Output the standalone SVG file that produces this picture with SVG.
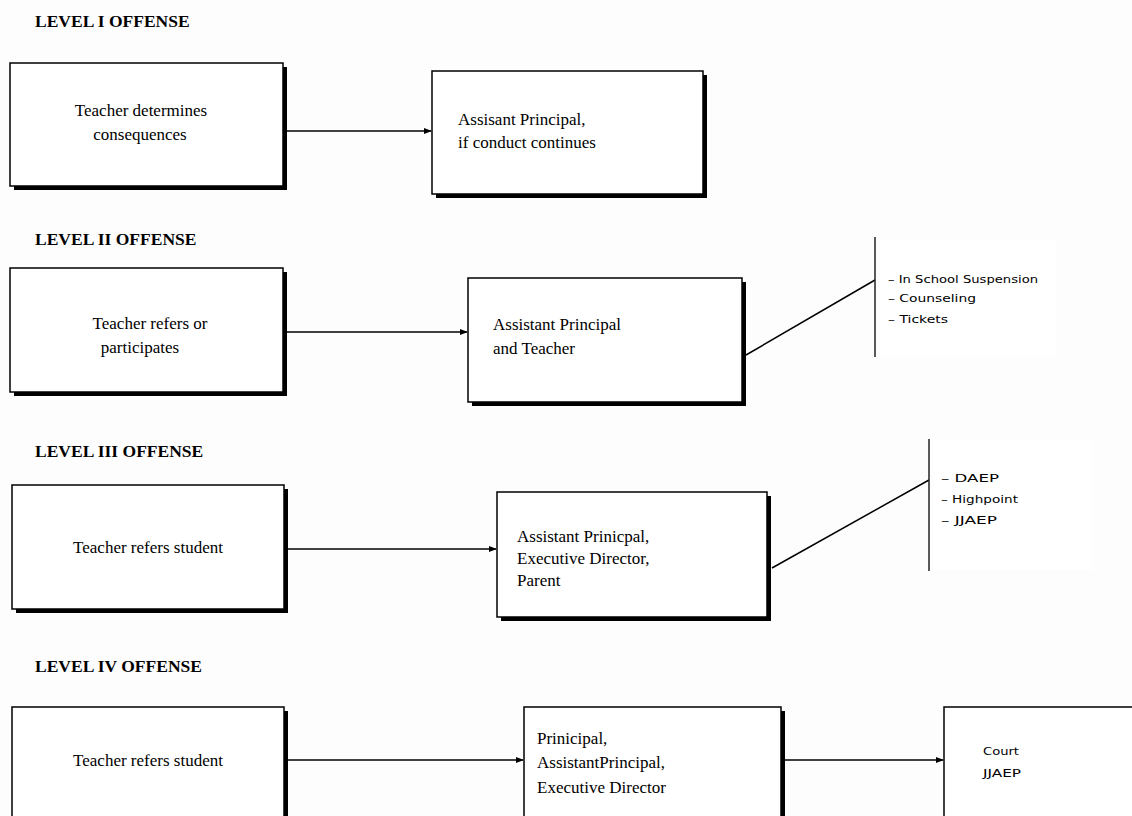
<svg xmlns="http://www.w3.org/2000/svg" width="1132" height="816" viewBox="0 0 1132 816">
  <defs>
    <marker id="arrow" viewBox="0 0 10 10" refX="9" refY="5" markerWidth="8" markerHeight="8" markerUnits="userSpaceOnUse" orient="auto">
      <path d="M0,1 L10,5 L0,9 z" fill="#000"/>
    </marker>
  </defs>
  <style>
    .title { font-family: "Liberation Serif", serif; font-weight: bold; font-size: 17.5px; fill: #000; }
    .label { font-family: "Liberation Serif", serif; font-size: 17px; fill: #000; }
    .small { font-family: "DejaVu Sans", "Liberation Sans", sans-serif; font-size: 11px; fill: #000; }
    .shadow { fill: #000; }
    .box { fill: #fff; stroke: #000; stroke-width: 1.5; }
    .conn { stroke: #000; stroke-width: 1.5; fill: none; }
    .bar { stroke: #222; stroke-width: 1.5; }
    .panel { fill: #fff; }
  </style>
  <rect width="1132" height="816" fill="#fdfdfd"/>

  <!-- section titles -->
  <text class="title" x="35" y="27">LEVEL I OFFENSE</text>
  <text class="title" x="35" y="245">LEVEL II OFFENSE</text>
  <text class="title" x="35" y="457">LEVEL III OFFENSE</text>
  <text class="title" x="35" y="672">LEVEL IV OFFENSE</text>

  <!-- Level I -->
  <g id="n1a">
    <rect class="shadow" x="14" y="67" width="273" height="123"/>
    <rect class="box" x="10" y="63" width="273" height="123"/>
    <text class="label" text-anchor="middle" x="141" y="116">Teacher determines</text>
    <text class="label" text-anchor="middle" x="140" y="140">consequences</text>
  </g>
  <g id="n1b">
    <rect class="shadow" x="436" y="75" width="271" height="123"/>
    <rect class="box" x="432" y="71" width="271" height="123"/>
    <text class="label" x="458" y="125">Assisant Principal,</text>
    <text class="label" x="458" y="148">if conduct continues</text>
  </g>

  <!-- Level II -->
  <g id="n2a">
    <rect class="shadow" x="14" y="272" width="273" height="124"/>
    <rect class="box" x="10" y="268" width="273" height="124"/>
    <text class="label" text-anchor="middle" x="150" y="329">Teacher refers or</text>
    <text class="label" text-anchor="middle" x="140" y="353">participates</text>
  </g>
  <g id="n2b">
    <rect class="shadow" x="472" y="282" width="274" height="124"/>
    <rect class="box" x="468" y="278" width="274" height="124"/>
    <text class="label" x="493" y="330">Assistant Principal</text>
    <text class="label" x="493" y="354">and Teacher</text>
  </g>
  <g id="n2c">
    <rect class="panel" x="880" y="240" width="176" height="116"/>
    <text class="small" x="888" y="283" textLength="150" lengthAdjust="spacingAndGlyphs">– In School Suspension</text>
    <text class="small" x="888" y="302" textLength="88" lengthAdjust="spacingAndGlyphs">– Counseling</text>
    <text class="small" x="888" y="323" textLength="60" lengthAdjust="spacingAndGlyphs">– Tickets</text>
  </g>

  <!-- Level III -->
  <g id="n3a">
    <rect class="shadow" x="16" y="489" width="272" height="124"/>
    <rect class="box" x="12" y="485" width="272" height="124"/>
    <text class="label" text-anchor="middle" x="148" y="553">Teacher refers student</text>
  </g>
  <g id="n3b">
    <rect class="shadow" x="501" y="496" width="270" height="125"/>
    <rect class="box" x="497" y="492" width="270" height="125"/>
    <text class="label" x="517" y="542">Assistant Prinicpal,</text>
    <text class="label" x="517" y="564">Executive Director,</text>
    <text class="label" x="517" y="586">Parent</text>
  </g>
  <g id="n3c">
    <rect class="panel" x="934" y="440" width="158" height="130"/>
    <text class="small" x="941" y="482" textLength="58" lengthAdjust="spacingAndGlyphs">–  DAEP</text>
    <text class="small" x="941" y="503" textLength="77" lengthAdjust="spacingAndGlyphs">– Highpoint</text>
    <text class="small" x="941" y="524" textLength="56" lengthAdjust="spacingAndGlyphs">– JJAEP</text>
  </g>

  <!-- Level IV -->
  <g id="n4a">
    <rect class="shadow" x="16" y="711" width="272" height="120"/>
    <rect class="box" x="12" y="707" width="272" height="120"/>
    <text class="label" text-anchor="middle" x="148" y="766">Teacher refers student</text>
  </g>
  <g id="n4b">
    <rect class="shadow" x="528" y="711" width="257" height="120"/>
    <rect class="box" x="524" y="707" width="257" height="120"/>
    <text class="label" x="537" y="744">Prinicipal,</text>
    <text class="label" x="537" y="768">AssistantPrincipal,</text>
    <text class="label" x="537" y="793">Executive Director</text>
  </g>
  <g id="n4c">
    <rect class="shadow" x="948" y="711" width="200" height="120"/>
    <rect class="box" x="944" y="707" width="200" height="120"/>
    <text class="small" x="983" y="755" textLength="36" lengthAdjust="spacingAndGlyphs">Court</text>
    <text class="small" x="983" y="777" textLength="38" lengthAdjust="spacingAndGlyphs">JJAEP</text>
  </g>

  <!-- connectors -->
  <g id="connectors">
    <line class="conn" x1="287" y1="131" x2="431" y2="131" marker-end="url(#arrow)"/>
    <line class="conn" x1="283" y1="332" x2="467" y2="332" marker-end="url(#arrow)"/>
    <line class="conn" x1="288" y1="549" x2="496" y2="549" marker-end="url(#arrow)"/>
    <line class="conn" x1="288" y1="760" x2="523" y2="760" marker-end="url(#arrow)"/>
    <line class="conn" x1="785" y1="760" x2="943" y2="760" marker-end="url(#arrow)"/>
    <polyline class="conn" points="746,355 875,280"/>
    <line class="bar" x1="875" y1="237" x2="875" y2="357"/>
    <polyline class="conn" points="772,568 929,480"/>
    <line class="bar" x1="929" y1="439" x2="929" y2="571"/>
  </g>
</svg>
